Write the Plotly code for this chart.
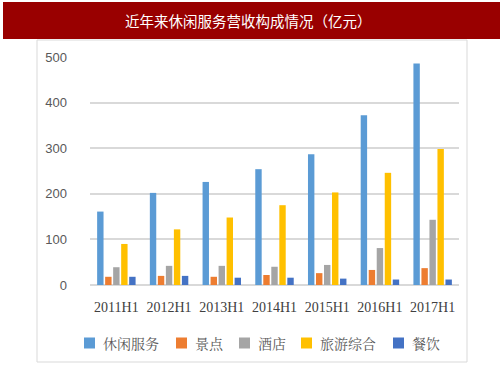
import plotly.graph_objects as go

categories = ["2011H1", "2012H1", "2013H1", "2014H1", "2015H1", "2016H1", "2017H1"]
leisure = [161, 202, 226, 254, 287, 372, 486]
scenic = [18, 20, 18, 22, 26, 33, 37]
hotel = [39, 42, 42, 40, 44, 81, 143]
travel = [90, 122, 148, 175, 203, 246, 298]
catering = [18, 20, 16, 16, 14, 12, 12]

series_names = ["休闲服务", "景点", "酒店", "旅游综合", "餐饮"]
series_values = [leisure, scenic, hotel, travel, catering]
series_colors = ["#5B9BD5", "#ED7D31", "#A5A5A5", "#FFC000", "#4472C4"]
yticks = [0, 100, 200, 300, 400, 500]

fig = go.Figure()
for name, vals, col in zip(series_names, series_values, series_colors):
    fig.add_trace(go.Bar(x=categories, y=vals, name=name, marker_color=col,
                         marker_line_width=0, showlegend=False))

W, H = 503, 378
L, R, T, B = 90, 459, 57, 285
pw, ph = R - L, B - T

def px(x):
    return (x - L) / pw

def py(y):
    return (B - y) / ph

shapes = [
    dict(type="rect", xref="paper", yref="paper", x0=px(37), x1=px(467), y0=py(362), y1=py(40),
         line=dict(color="#D9D9D9", width=1), fillcolor="white", layer="below"),
    dict(type="rect", xref="paper", yref="paper", x0=px(3), x1=px(500), y0=py(39), y1=py(2),
         line=dict(width=0), fillcolor="#990000", layer="below"),
]
annotations = [dict(text="近年来休闲服务营收构成情况（亿元）", xref="paper", yref="paper",
                    x=px(248), y=py(21), xanchor="center", yanchor="middle", showarrow=False,
                    font=dict(family="Noto Sans CJK SC", size=14.5, color="white"))]

# manual legend (Excel-style layout)
legend_sq_left = [84, 176, 239, 301, 393]
sq = 11
ly = 343
for name, col, x0 in zip(series_names, series_colors, legend_sq_left):
    shapes.append(dict(type="rect", xref="paper", yref="paper", x0=px(x0), x1=px(x0 + sq),
                       y0=py(ly + sq / 2), y1=py(ly - sq / 2), line=dict(width=0), fillcolor=col))
    annotations.append(dict(text=name, xref="paper", yref="paper", x=px(x0 + sq + 6), y=py(ly),
                            xanchor="left", yanchor="middle", showarrow=False,
                            font=dict(family="Noto Serif CJK SC, Noto Sans CJK SC", size=14,
                                      color="#595959")))

fig.update_layout(
    width=W, height=H,
    margin=dict(l=L, r=W - R, t=T, b=H - B, pad=0),
    paper_bgcolor="white", plot_bgcolor="rgba(0,0,0,0)",
    barmode="group", bargap=0.24, bargroupgap=0.2,
    shapes=shapes,
    annotations=annotations,
    showlegend=False,
    yaxis=dict(range=[0, 500], tickvals=yticks, showgrid=True, gridcolor="#D9D9D9", gridwidth=1.5,
               zeroline=True, zerolinecolor="#D9D9D9", zerolinewidth=1.5,
               tickfont=dict(family="Liberation Sans", size=13, color="#595959"),
               ticks="", ticklabelstandoff=22, showline=False),
    xaxis=dict(tickfont=dict(family="Liberation Serif", size=14, color="#404040"),
               ticks="", showline=False, ticklabelstandoff=12),
    font=dict(family="Liberation Sans"),
)

fig.write_html("out.html", config={"displayModeBar": False},
               post_script="document.body.style.margin='0';")
